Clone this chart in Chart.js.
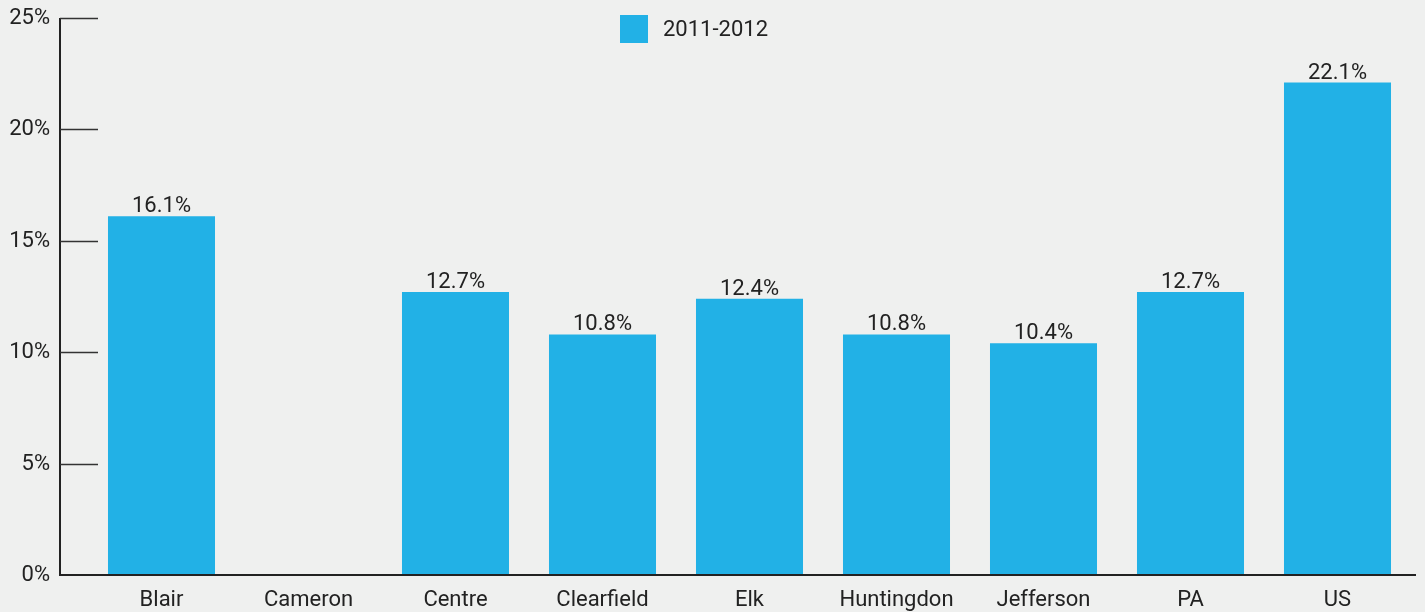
<!DOCTYPE html>
<html>
<head>
<meta charset="utf-8">
<script src="https://cdn.jsdelivr.net/npm/chart.js@4"></script>
<style>
  html, body { margin: 0; padding: 0; background: #eff0ef; }
  #wrap { width: 1425px; height: 612px; position: relative; }
</style>
</head>
<body>
<div id="wrap"><canvas id="c" width="1425" height="612"></canvas></div>
<script>
const categories = ["Blair", "Cameron", "Centre", "Clearfield", "Elk", "Huntingdon", "Jefferson", "PA", "US"];
const seriesName = "2011-2012";
const values = [16.1, null, 12.7, 10.8, 12.4, 10.8, 10.4, 12.7, 22.1];
const yTicks = [0, 5, 10, 15, 20, 25];

const BAR = "#22b1e6";
const TEXT = "#222222";
const FONT = "Roboto";
const FSIZE = 22;

const bgPlugin = {
  id: "bg",
  beforeDraw(chart) {
    const ctx = chart.ctx;
    ctx.save();
    ctx.fillStyle = "#eff0ef";
    ctx.fillRect(0, 0, chart.width, chart.height);
    ctx.restore();
  }
};

const axesPlugin = {
  id: "axesCustom",
  afterDatasetsDraw(chart) {
    const ctx = chart.ctx;
    const y = chart.scales.y;
    const area = chart.chartArea;
    const axisX = 60;
    ctx.save();
    ctx.strokeStyle = "#222";
    ctx.lineWidth = 2;
    ctx.beginPath();
    ctx.moveTo(axisX, y.getPixelForValue(25));
    ctx.lineTo(axisX, y.getPixelForValue(0));
    ctx.lineTo(area.right + 5, y.getPixelForValue(0));
    ctx.stroke();
    ctx.strokeStyle = "#333";
    ctx.lineWidth = 1.5;
    ctx.font = FSIZE + "px " + FONT;
    ctx.fillStyle = TEXT;
    ctx.textAlign = "right";
    ctx.textBaseline = "middle";
    yTicks.forEach(v => {
      const py = Math.round(y.getPixelForValue(v)) + 0.5;
      ctx.fillText(v + "%", 50, py);
      if (v === 0) return;
      ctx.beginPath();
      ctx.moveTo(axisX, py);
      ctx.lineTo(axisX + 38, py);
      ctx.stroke();
    });
    // data labels
    ctx.textAlign = "center";
    ctx.textBaseline = "alphabetic";
    const meta = chart.getDatasetMeta(0);
    meta.data.forEach((bar, i) => {
      const v = chart.data.datasets[0].data[i];
      if (v === null || v === undefined) return;
      ctx.fillText(v.toFixed(1) + "%", bar.x, bar.y - 4);
    });
    // legend
    const ds = chart.data.datasets[0];
    ctx.fillStyle = ds.backgroundColor;
    ctx.fillRect(620, 15, 28, 28);
    ctx.fillStyle = TEXT;
    ctx.textAlign = "left";
    ctx.textBaseline = "middle";
    ctx.fillText(ds.label, 663, 30);
    ctx.restore();
  }
};

new Chart(document.getElementById("c"), {
  type: "bar",
  data: {
    labels: categories,
    datasets: [{
      label: seriesName,
      data: values,
      backgroundColor: BAR,
      borderWidth: 0,
      barPercentage: 0.728,
      categoryPercentage: 1.0
    }]
  },
  options: {
    responsive: false,
    animation: false,
    devicePixelRatio: 1,
    layout: { padding: { top: 18, right: 14, bottom: 0, left: 0 } },
    plugins: {
      legend: { display: false },
      tooltip: { enabled: false }
    },
    scales: {
      x: {
        grid: { display: false, drawTicks: false },
        border: { display: false },
        afterFit(scale) { scale.height = 37; },
        ticks: { color: TEXT, font: { family: FONT, size: FSIZE }, padding: 12, maxRotation: 0, autoSkip: false }
      },
      y: {
        min: 0,
        max: 25,
        grid: { display: false, drawTicks: false },
        border: { display: false },
        afterBuildTicks(scale) { scale.ticks = yTicks.map(v => ({ value: v })); },
        afterFit(scale) { scale.width = 88; },
        ticks: { display: false }
      }
    }
  },
  plugins: [bgPlugin, axesPlugin]
});
</script>
</body>
</html>
